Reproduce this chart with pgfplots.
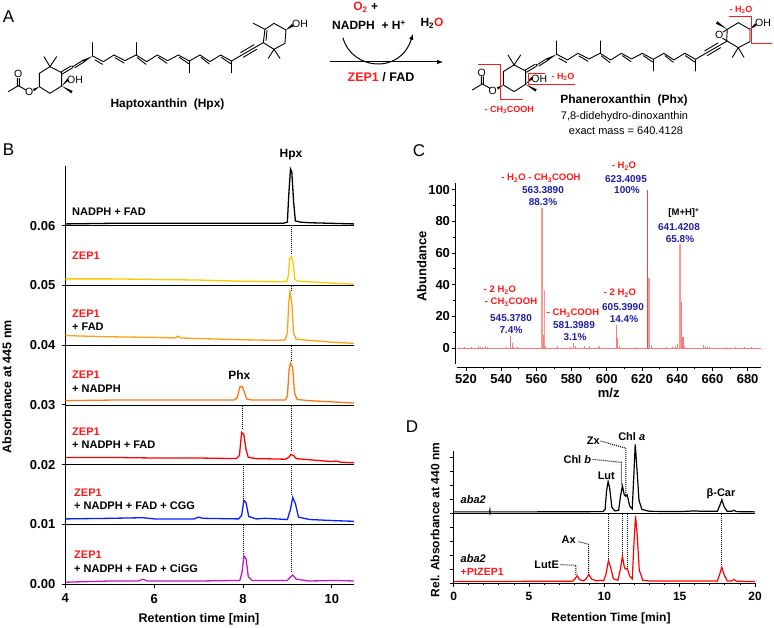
\documentclass[border=0pt]{standalone}
\usepackage{pgfplots}
\usepackage{fontspec}
\setmainfont{Liberation Sans}
\pgfplotsset{compat=1.18}
\definecolor{zred}{HTML}{FF1A1A}
\definecolor{navy}{HTML}{1F1FA8}
\definecolor{specred}{HTML}{F77C7C}
\newcommand{\fs}[1]{\fontsize{#1}{#1}\selectfont}
\newcommand{\blab}[3]{\node[anchor=west,inner sep=0pt,font=\fs{11}\bfseries] at (#1,#2) {#3};}
\newcommand{\rlab}[3]{\node[anchor=west,inner sep=0pt,font=\fs{11}\bfseries,text=zred] at (#1,#2) {#3};}
\newcommand{\clab}[4][black]{\node[inner sep=0pt,font=\fs{#2}\bfseries,text=#1] at #3 {#4};}
\newcommand{\atom}[3]{\node[font=\fs{10.5},inner sep=0pt] at (#1,#2) {#3};}
\tikzset{dropl/.style={black,dash pattern=on 1pt off 1pt,line width=1pt,line cap=butt}}
\newcommand{\mol}{%
  % zoom coordinates / 3
  \draw (25,275)--(55,257) (52,257)--(52,235) (58,257)--(58,235) (55,257)--(78,270);
  \fill (118,260)--(99,267)--(102,274)--cycle;
  \draw (118,260)--(118,220)--(150,200)--(185,218)--(185,258)--(150,280)--(118,260);
  \draw (150,200)--(132,170) (150,200)--(170,170);
  \fill (185,258)--(214,280)--(218,273)--cycle;
  \fill (185,258)--(202,236)--(207,241)--cycle;
  \draw (183,216)--(213,198) (187,222)--(217,204);
  \fill (218,200) circle[radius=1.2pt];
  \draw (222,198)--(250,180) (225,203)--(252,186);
  \fill (278,168)--(248,180)--(252,187)--cycle;
  \draw (278,168)--(278,128);
  \draw (278,168)--(310,185)--(342,165)--(375,182)--(408,165)--(440,185)--(472,165)--(503,182)--(535,165)--(568,183)--(600,165)--(630,185)--(662,165)--(695,183)--(722,167);
  \draw (285,180)--(308,193) (345,173)--(372,189) (412,173)--(438,193) (475,172)--(501,190) (538,172)--(566,191) (603,172)--(628,192) (664,172)--(692,191);
  \draw (408,165)--(408,128) (568,183)--(568,218) (695,183)--(695,218);
  \draw (722,167)--(790,128) (722,158)--(762,134) (730,172)--(770,148);
}
\begin{document}
\begin{tikzpicture}[x=1pt,y=-1pt,line cap=round]
\useasboundingbox (0,0) rectangle (774,628);
% ---- panel letters
\node[font=\fs{17},inner sep=0pt] at (8.5,17) {A};
\node[font=\fs{17},inner sep=0pt] at (8.5,150) {B};
\node[font=\fs{17},inner sep=0pt] at (419,151) {C};
\node[font=\fs{17},inner sep=0pt] at (412,427) {D};

% ---- panel A left structure
\begin{scope}[x=0.3333pt,y=-0.3333pt,line width=0.9pt]
\mol
\draw (790,128)--(822,148)--(855,130)--(858,90)--(822,70)--(795,88)--(790,128);
\draw (801,92)--(798,122);
\draw (795,88)--(760,70) (822,148)--(805,175) (822,148)--(840,175);
\fill (858,90)--(876,72)--(881,79)--cycle;
\end{scope}
\atom{18.3}{73.5}{O}
\atom{29.3}{92}{O}
\atom{75}{79.5}{OH}
\atom{300}{24}{OH}
\clab{12}{(167.5,104)}{Haptoxanthin\ \ (Hpx)}

% ---- panel A right structure
\begin{scope}[shift={(464,-1.7)},x=0.3333pt,y=-0.3333pt,line width=0.9pt]
\mol
\end{scope}
\begin{scope}[shift={(390,0)},x=0.3333pt,y=-0.3333pt,line width=0.9pt]
\draw (1010,122)--(1045,143)--(1080,125)--(1080,88)--(1045,68)--(1012,88)--(1010,122);
\draw (1012,88)--(1000,96) (998,115)--(1010,122);
\fill (1012,88)--(982,64)--(978,71)--cycle;
\draw (1045,143)--(1027,172) (1045,143)--(1062,172);
\fill (1080,88)--(1095,70)--(1100,77)--cycle;
\draw[zred,line width=0.9pt] (265,192)--(330,192)--(330,298)--(398,298);
\draw[zred,line width=0.9pt] (465,220)--(415,220)--(415,253)--(555,253);
\draw[zred,line width=0.9pt] (1018,50)--(1085,50)--(1085,130)--(1145,130);
\end{scope}
\atom{481.7}{73.3}{O}
\atom{492.7}{90.7}{O}
\atom{539.3}{79}{OH}
\atom{719.3}{35}{O}
\atom{763}{22.7}{OH}
\clab[zred]{9}{(563,77)}{\hspace{0pt}- H\textsubscript{2}O}
\clab[zred]{9}{(741,10)}{- H\textsubscript{2}O}
\clab[zred]{9}{(509.3,110)}{- CH\textsubscript{3}COOH}
\clab{12}{(624,100)}{Phaneroxanthin\ \ (Phx)}
\node[font=\fs{11},inner sep=0pt] at (624.5,117) {7,8-didehydro-dinoxanthin};
\node[font=\fs{11},inner sep=0pt] at (626,131) {exact mass = 640.4128};

% ---- reaction
\clab{12}{(365.7,7)}{\textcolor{zred}{O\textsubscript{2}} +}
\clab{12}{(369,25)}{NADPH\ \ + H\textsuperscript{+}}
\node[font=\fs{12}\bfseries,inner sep=0pt] at (432,23) {H\textsubscript{2}\textcolor{zred}{O}};
\clab{12.5}{(381,77)}{\textcolor{zred}{ZEP1} / FAD}
\draw[line width=1pt,-latex] (330,62) -- (443,62);
\draw[line width=1pt,-latex] (343,38) .. controls (352,70) and (400,75) .. (413,34);

% ---- panel B
\begin{axis}[
  at={(65.3pt,-584pt)}, anchor=south west,
  scale only axis, width=288.7pt, height=418pt,
  xmin=4, xmax=10.5, ymin=0, ymax=0.07,
  axis lines=left, axis line style={-, line width=0.8pt},
  xtick={4,6,8,10},
  ytick={0,0.01,0.02,0.03,0.04,0.05,0.06},
  ymajorgrids, grid style={black,line width=0.7pt},
  tick style={black,line width=0.8pt}, tick align=outside, major tick length=3.5pt,
  scaled y ticks=false,
  /pgf/number format/assume math mode=true,
  yticklabel style={/pgf/number format/fixed,/pgf/number format/fixed zerofill,/pgf/number format/precision=2,xshift=-3pt},
  xticklabel style={yshift=-3pt},
  ticklabel style={font=\fs{13}\bfseries},
  xlabel={Retention time [min]}, ylabel={Absorbance at 445 nm},
  every axis x label/.style={at={(axis description cs:0.463,-0.0837)},anchor=center},
  every axis y label/.style={at={(axis description cs:-0.202,0.472)},rotate=90,anchor=center},
  label style={font=\fs{12.5}\bfseries},
  every axis plot/.append style={line width=1.3pt},
  clip=false,
]
\addplot[black] coordinates {(4,0.0603)(5,0.0604)(6,0.0604)(7,0.0604)(8,0.0604)(8.9,0.0604)(9.0,0.0606)(9.03,0.0650)(9.07,0.0695)(9.1,0.0690)(9.14,0.0640)(9.18,0.0608)(9.3,0.0606)(9.5,0.0605)(10.5,0.0603)};
\addplot[color={rgb,255:red,255;green,200;blue,0}] coordinates {(4,0.0511)(5,0.0511)(6,0.0510)(7,0.0509)(8,0.0507)(8.98,0.0506)(9.02,0.0515)(9.05,0.0545)(9.09,0.0548)(9.13,0.0538)(9.17,0.0510)(9.25,0.0507)(9.5,0.0506)(10,0.0504)(10.5,0.0502)};
\addplot[color={rgb,255:red,255;green,160;blue,20}] coordinates {(4,0.0416)(5,0.0414)(6,0.0413)(6.48,0.0412)(6.53,0.0415)(6.6,0.0412)(7,0.0411)(8,0.0409)(8.8,0.0408)(8.95,0.0409)(9.0,0.0420)(9.03,0.0470)(9.06,0.0489)(9.1,0.0470)(9.14,0.0420)(9.2,0.0410)(9.5,0.0408)(10,0.0405)(10.5,0.0403)};
\addplot[color={rgb,255:red,255;green,120;blue,20}] coordinates {(4,0.0307)(5,0.0308)(6,0.0308)(7,0.0308)(7.8,0.0308)(7.87,0.0312)(7.93,0.0330)(7.98,0.0331)(8.03,0.0322)(8.08,0.0310)(8.2,0.0308)(8.95,0.0308)(9.0,0.0315)(9.04,0.0360)(9.07,0.0370)(9.12,0.0362)(9.16,0.0320)(9.22,0.0309)(9.5,0.0307)(10,0.0305)(10.5,0.0303)};
\addplot[color={rgb,255:red,255;green,0;blue,0}] coordinates {(4,0.0212)(5,0.0212)(6,0.0211)(7,0.0211)(7.85,0.0210)(7.92,0.0215)(7.97,0.0254)(8.02,0.0250)(8.07,0.0225)(8.12,0.0212)(8.3,0.0210)(8.95,0.0209)(9.03,0.0212)(9.08,0.0217)(9.14,0.0215)(9.2,0.0210)(9.5,0.0208)(10,0.0205)(10.1,0.0206)(10.2,0.0204)(10.5,0.0203)};
\addplot[color={rgb,255:red,10;green,30;blue,255}] coordinates {(4,0.0109)(5,0.0110)(5.75,0.0111)(6,0.0109)(6.9,0.0109)(7,0.0112)(7.1,0.0110)(7.9,0.0109)(7.97,0.0115)(8.02,0.0140)(8.07,0.0136)(8.13,0.0113)(8.3,0.0109)(8.5,0.0110)(9.0,0.0108)(9.07,0.0125)(9.12,0.0145)(9.18,0.0135)(9.25,0.0112)(9.5,0.0108)(10.1,0.0106)(10.5,0.0105)};
\addplot[color={rgb,255:red,200;green,20;blue,210}] coordinates {(4,0.0003)(5,0.0005)(5.65,0.0005)(5.75,0.0008)(5.85,0.0005)(7,0.0005)(7.93,0.0006)(7.98,0.0020)(8.02,0.0047)(8.07,0.0042)(8.12,0.0012)(8.2,0.0006)(9.0,0.0006)(9.07,0.0012)(9.12,0.0015)(9.2,0.0008)(9.5,0.0005)(10.1,0.0006)(10.5,0.0005)};
% drop lines
\addplot[dropl] coordinates {(9.1,0.0598)(9.1,0.0552)};
\addplot[dropl] coordinates {(9.1,0.0499)(9.1,0.0489)};
\addplot[dropl] coordinates {(9.1,0.0398)(9.1,0.0372)};
\addplot[dropl] coordinates {(9.1,0.0298)(9.1,0.0222)};
\addplot[dropl] coordinates {(9.1,0.0198)(9.1,0.0148)};
\addplot[dropl] coordinates {(9.1,0.0098)(9.1,0.0020)};
\addplot[dropl] coordinates {(8.0,0.0298)(8.0,0.0258)};
\addplot[dropl] coordinates {(8.02,0.0198)(8.02,0.0143)};
\addplot[dropl] coordinates {(8.02,0.0098)(8.02,0.0050)};
\end{axis}
\clab{12}{(291,155)}{Hpx}
\clab{12}{(239.3,375)}{Phx}
\blab{72}{212}{NADPH + FAD}
\rlab{72}{255.7}{ZEP1}
\rlab{72}{313.7}{ZEP1}
\blab{72}{327}{+ FAD}
\rlab{72}{375}{ZEP1}
\blab{72}{388.7}{+ NADPH}
\rlab{72}{431.7}{ZEP1}
\blab{72}{445}{+ NADPH + FAD}
\rlab{74}{493}{ZEP1}
\blab{74}{506}{+ NADPH + FAD + CGG}
\rlab{74}{555}{ZEP1}
\blab{74}{568.5}{+ NADPH + FAD + CiGG}

% ---- panel C
\begin{axis}[
  at={(456.5pt,-364pt)}, anchor=south west,
  scale only axis, width=304.5pt, height=180.7pt,
  xmin=514.6, xmax=687.6, ymin=-10.1, ymax=104,
  axis lines=left, axis line style={-, line width=0.8pt},
  axis x line shift=3.3pt, axis y line shift=1.5pt,
  xtick={520,540,...,680}, minor x tick num=1,
  ytick={0,20,...,100}, minor y tick num=1,
  tick style={black,line width=0.8pt}, tick align=outside, major tick length=3.5pt, minor tick length=2pt,
  /pgf/number format/assume math mode=true,
  ticklabel style={font=\fs{13}\bfseries},
  yticklabel style={xshift=2pt},
  xlabel={m/z}, ylabel={Abundance},
  every axis x label/.style={at={(axis description cs:0.5,-0.162)},anchor=center},
  every axis y label/.style={at={(axis description cs:-0.114,0.54)},rotate=90,anchor=center},
  label style={font=\fs{13}\bfseries},
  clip=false,
]
\addplot[specred,line width=0.6pt] coordinates {(514.6,0)(687.6,0)};
\addplot[ycomb,specred,line width=0.6pt,no marks] coordinates {(519,0.4)(523,0.4)(527,1)(528,0.7)(529,0.5)(531,1)(532,0.7)(543,0.4)(546.3,3.2)(547,0.8)(549,0.5)(565,1.2)(572,1.2)(579,0.5)(582,1)(587,1)(590,1)(595,1)(596,0.5)(607,1.2)(617,0.4)(625,2)(634,0.5)(637,0.5)(639,1)(640,2.5)(644,1)(655,1.8)(656,1)(657,0.7)(658,0.4)(668,0.4)(673,0.4)(678,0.7)(682,0.4)};
\addplot[ycomb,specred,line width=1.1pt,no marks] coordinates {(545.3,7.4)(564.3,8.3)(581.3,3.1)(605.3,14.4)(606.3,6.5)(624.3,10.5)(642.3,29)(643.3,7)};
\addplot[ycomb,color={rgb,255:red,255;green,150;blue,150},line width=2.2pt,no marks] coordinates {(563.4,88.3)(641.4,65.8)};
\addplot[ycomb,color={rgb,255:red,255;green,150;blue,150},line width=1.3pt,no marks] coordinates {(564.4,36.5)(624,44.5)};
\addplot[ycomb,color={rgb,255:red,240;green,70;blue,70},line width=0.8pt,no marks] coordinates {(623.3,100)};
\end{axis}
\clab[zred]{9.5}{(541,178)}{- H\textsubscript{2}O - CH\textsubscript{3}COOH}
\clab[navy]{10}{(543,190)}{563.3890}
\clab[navy]{10}{(543,202)}{88.3\%}
\clab[zred]{9.5}{(624,166)}{- H\textsubscript{2}O}
\clab[navy]{10}{(626,179)}{623.4095}
\clab[navy]{10}{(627,190)}{100\%}
\node[inner sep=0pt,font=\fs{9.5}\bfseries] at (684,213) {[M+H]\textsuperscript{+}};
\clab[navy]{10}{(679,227)}{641.4208}
\clab[navy]{10}{(680,239)}{65.8\%}
\clab[zred]{9.5}{(500,290)}{- 2 H\textsubscript{2}O}
\clab[zred]{9.5}{(511,302)}{- CH\textsubscript{3}COOH}
\clab[navy]{10}{(511,318)}{545.3780}
\clab[navy]{10}{(511,330)}{7.4\%}
\clab[zred]{9.5}{(573,313)}{- CH\textsubscript{3}COOH}
\clab[navy]{10}{(574,325)}{581.3989}
\clab[navy]{10}{(575,337)}{3.1\%}
\clab[zred]{9.5}{(620,293)}{- 2 H\textsubscript{2}O}
\clab[navy]{10}{(623,307)}{605.3990}
\clab[navy]{10}{(624,319)}{14.4\%}

% ---- panel D
\begin{axis}[
  at={(453.7pt,-583pt)}, anchor=south west,
  scale only axis, width=301.3pt, height=132.3pt,
  xmin=0, xmax=20, ymin=0, ymax=9.45,
  axis lines=left, axis line style={-, line width=0.8pt},
  xtick={0,5,...,20}, minor x tick num=4,
  ytick={0,1,...,9}, yticklabels={},
  tick style={black,line width=0.8pt}, tick align=outside, major tick length=3.5pt, minor tick length=2pt,
  /pgf/number format/assume math mode=true,
  ticklabel style={font=\fs{12}\bfseries},
  xticklabel style={yshift=-2pt},
  xlabel={Retention Time [min]}, ylabel={Rel. Absorbance at 440 nm},
  every axis x label/.style={at={(axis description cs:0.522,-0.267)},anchor=center},
  every axis y label/.style={at={(axis description cs:-0.062,0.476)},rotate=90,anchor=center},
  label style={font=\fs{12}\bfseries},
  every axis plot/.append style={line width=1.2pt},
  clip=false,
]
\addplot[black,line width=0.8pt] coordinates {(0,5)(20,5)};
\addplot[black] coordinates {(0,5.08)(2.38,5.08)(2.4,5.2)(2.42,5.0)(2.44,5.08)(5,5.08)(9.9,5.1)(10.05,5.25)(10.15,6.6)(10.25,7.24)(10.35,6.8)(10.5,5.4)(10.7,5.15)(10.95,5.2)(11.07,6.2)(11.2,6.93)(11.32,6.3)(11.42,6.2)(11.52,6.29)(11.68,5.5)(11.85,5.3)(11.95,7.5)(12.05,9.9)(12.15,8.4)(12.3,5.9)(12.5,5.25)(13,5.12)(15,5.1)(16,5.15)(16.5,5.12)(17.5,5.12)(17.65,5.5)(17.8,5.95)(17.95,5.45)(18.15,5.12)(18.45,5.12)(18.6,5.2)(18.75,5.1)(20,5.08)};
\addplot[color={rgb,255:red,255;green,0;blue,0}] coordinates {(0,0.1)(5,0.12)(7.9,0.13)(8.05,0.3)(8.2,0.52)(8.35,0.25)(8.6,0.15)(8.8,0.3)(8.97,0.62)(9.15,0.28)(9.5,0.15)(9.75,0.2)(9.95,0.15)(10.1,0.6)(10.27,1.6)(10.42,1.1)(10.6,0.3)(10.9,0.2)(11.05,0.9)(11.2,1.9)(11.33,1.1)(11.42,1.0)(11.52,1.05)(11.68,0.5)(11.85,0.3)(11.95,2.5)(12.07,4.79)(12.17,3.6)(12.32,0.9)(12.55,0.2)(13,0.14)(16,0.14)(17.5,0.15)(17.65,0.6)(17.8,1.12)(17.95,0.6)(18.15,0.15)(18.45,0.15)(18.6,0.26)(18.75,0.13)(20,0.1)};
\addplot[dropl] coordinates {(10.27,4.9)(10.27,1.7)};
\addplot[dropl] coordinates {(11.18,4.9)(11.18,2)};
\addplot[dropl] coordinates {(11.52,4.9)(11.52,1.1)};
\addplot[dropl] coordinates {(17.8,4.9)(17.8,1.2)};
\end{axis}
\begin{scope}[shift={(410,385)},x=0.3333pt,y=-0.3333pt,dropl]
\draw (572,168)--(648,190)--(648,330);
\draw (548,223)--(634,232)--(634,300);
\draw (506,470)--(536,478)--(536,565);
\draw (452,539)--(498,541)--(498,572);
\end{scope}
\clab{11}{(631.7,436.7)}{Chl \textit{a}}
\clab{11}{(593.3,441)}{Zx}
\clab{11}{(577.3,459.7)}{Chl \textit{b}}
\clab{11}{(606.3,475.3)}{Lut}
\clab{11}{(721,493.3)}{β-Car}
\clab{11}{(568.7,539.7)}{Ax}
\clab{11}{(546.7,564.3)}{LutE}
\node[inner sep=0pt,anchor=west,font=\fs{11}\bfseries\itshape] at (460.5,499.3) {aba2};
\node[inner sep=0pt,anchor=west,font=\fs{11}\bfseries\itshape] at (460.5,558.3) {aba2};
\node[inner sep=0pt,anchor=west,font=\fs{10.5}\bfseries,text=zred] at (460.5,572) {+PtZEP1};
\end{tikzpicture}
\end{document}
